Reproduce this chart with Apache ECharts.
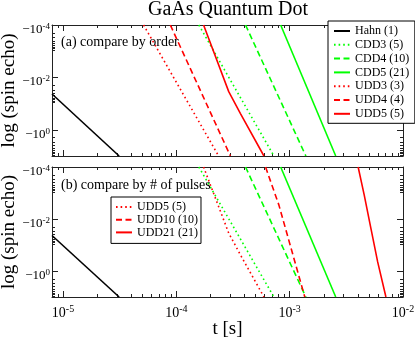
<!DOCTYPE html>
<html>
<head>
<meta charset="utf-8">
<script src="https://cdn.jsdelivr.net/npm/echarts@6/dist/echarts.min.js"></script>
<style>
html,body{margin:0;padding:0;background:#fff;}
#chart{width:415px;height:339px;}
</style>
</head>
<body>
<div id="chart"></div>
<script>
// [t (s), -log(spin echo)]
const hahn  = [[8e-6, 0.043], [3.13e-5, 10]];
const cdd3  = [[1.58e-4, 1e-4], [7.26e-4, 10]];
const cdd4  = [[4.08e-4, 1e-4], [1.39e-3, 10]];
const cdd5  = [[8.33e-4, 1e-4], [2.55e-3, 10]];
const udd3  = [[5.14e-5, 1e-4], [2.36e-4, 10]];
const udd4  = [[8.85e-5, 1e-4], [3.0e-4, 10]];
const udd5  = [[1.74e-4, 1e-4], [2.9e-4, 0.035], [3.68e-4, 0.24], [5.93e-4, 10]];
const udd10 = [[6.13e-4, 1e-4], [8.04e-4, 2.93e-3], [1.36e-3, 10]];
const udd21 = [[4.02e-3, 1e-4], [4.55e-3, 1.21e-3], [5.21e-3, 0.0231], [5.97e-3, 0.436], [7.07e-3, 10]];

// axes
const xMin = 8e-6, xMax = 1e-2;
const yMin = 1e-4, yMax = 10;
const xMajor = [1e-5, 1e-4, 1e-3, 1e-2];
const xMinor = [9e-6,
  2e-5, 3e-5, 4e-5, 5e-5, 6e-5, 7e-5, 8e-5, 9e-5,
  2e-4, 3e-4, 4e-4, 5e-4, 6e-4, 7e-4, 8e-4, 9e-4,
  2e-3, 3e-3, 4e-3, 5e-3, 6e-3, 7e-3, 8e-3, 9e-3];
const yMajor = [1e-4, 1e-2, 1];
const yMinor = [2e-4, 3e-4, 4e-4, 5e-4, 6e-4, 7e-4, 8e-4, 9e-4,
  2e-2, 3e-2, 4e-2, 5e-2, 6e-2, 7e-2, 8e-2, 9e-2,
  2, 3, 4, 5, 6, 7, 8, 9];

const FONT = '"Liberation Serif", "DejaVu Serif", serif';
const lineCol = '#222';
const DOT = [1.6, 3];
const DASH = [6, 3.5];

const chart = echarts.init(document.getElementById('chart'));

function expOf(v) { return Math.round(Math.log10(v)); }

function tick(vals, len) {
    return {show: true, inside: true, customValues: vals, length: len, lineStyle: {color: lineCol, width: 1}};
}

function xAxesFor(g, withLabels) {
    const common = {type: 'log', gridIndex: g, min: xMin, max: xMax, splitLine: {show: false},
        axisLabel: {show: false}, axisLine: {show: false, onZero: false}};
    const lineOn = {show: true, onZero: false, lineStyle: {color: lineCol, width: 1}};
    return [
        Object.assign({}, common, {
            position: 'bottom', axisLine: lineOn, axisTick: tick(xMajor, 6),
            axisLabel: withLabels ? {
                show: true, customValues: xMajor, margin: 7,
                formatter: v => '{m|10}{s|' + expOf(v) + '}',
                rich: {
                    m: {fontFamily: FONT, fontSize: 14, color: '#000', lineHeight: 16, verticalAlign: 'bottom'},
                    s: {fontFamily: FONT, fontSize: 10, color: '#000', lineHeight: 4, verticalAlign: 'top'}
                }
            } : {show: false},
            name: withLabels ? 't [s]' : '', nameLocation: 'middle', nameGap: 23, nameMoveOverlap: false,
            nameTextStyle: {fontFamily: FONT, fontSize: 19, color: '#000'}
        }),
        Object.assign({}, common, {position: 'bottom', axisTick: tick(xMinor, 3)}),
        Object.assign({}, common, {position: 'top', axisLine: lineOn, axisTick: tick(xMajor, 6)}),
        Object.assign({}, common, {position: 'top', axisTick: tick(xMinor, 3)})
    ];
}

function yAxesFor(g) {
    const common = {type: 'log', gridIndex: g, min: yMin, max: yMax, inverse: true, splitLine: {show: false},
        axisLabel: {show: false}, axisLine: {show: false, onZero: false}};
    const lineOn = {show: true, onZero: false, lineStyle: {color: lineCol, width: 1}};
    return [
        Object.assign({}, common, {
            position: 'left', axisLine: lineOn, axisTick: tick(yMajor, 6),
            axisLabel: {
                show: true, customValues: yMajor, margin: 2, padding: [8, 0, 0, 0],
                formatter: v => '{m|\u221210}{s|' + expOf(v) + '}',
                rich: {
                    m: {fontFamily: FONT, fontSize: 13, color: '#000', lineHeight: 14, verticalAlign: 'bottom'},
                    s: {fontFamily: FONT, fontSize: 9, color: '#000', lineHeight: 9, verticalAlign: 'top'}
                }
            },
            name: 'log (spin echo)', nameLocation: 'middle', nameGap: 33, nameRotate: 90, nameMoveOverlap: false,
            nameTextStyle: {fontFamily: FONT, fontSize: 19, color: '#000'}
        }),
        Object.assign({}, common, {position: 'left', axisTick: tick(yMinor, 3)}),
        Object.assign({}, common, {position: 'right', axisLine: lineOn, axisTick: tick(yMajor, 6)}),
        Object.assign({}, common, {position: 'right', axisTick: tick(yMinor, 3)})
    ];
}

function line(name, data, color, type, g) {
    return {
        name: name, type: 'line', data: data, xAxisIndex: g * 4, yAxisIndex: g * 4,
        symbol: 'none', showSymbol: false, clip: true, z: 3,
        lineStyle: {color: color, width: 1.6, type: type}, itemStyle: {color: color}
    };
}

const legendText = {fontFamily: FONT, fontSize: 12, color: '#000', lineHeight: 13};

const option = {
    animation: false,
    backgroundColor: '#fff',
    title: {
        text: 'GaAs Quantum Dot', left: 148, top: 0, padding: 0,
        textStyle: {fontFamily: FONT, fontSize: 20, fontWeight: 'normal', color: '#000'}
    },
    grid: [
        {left: 52, top: 25, width: 351, height: 131, containLabel: false, outerBoundsMode: 'none'},
        {left: 52, top: 167, width: 351, height: 130, containLabel: false, outerBoundsMode: 'none'}
    ],
    xAxis: xAxesFor(0, false).concat(xAxesFor(1, true)),
    yAxis: yAxesFor(0).concat(yAxesFor(1)),
    legend: [
        {
            orient: 'vertical', left: 328, top: 21, padding: [3.5, 5.5, 3, 5],
            itemWidth: 16, itemHeight: 10, itemGap: 0.8,
            backgroundColor: '#fff', borderColor: '#000', borderWidth: 1, borderRadius: 0,
            itemStyle: {opacity: 0},
            textStyle: legendText,
            data: ['Hahn (1)', 'CDD3 (5)', 'CDD4 (10)', 'CDD5 (21)', 'UDD3 (3)', 'UDD4 (4)', 'UDD5 (5)']
        },
        {
            orient: 'vertical', left: 111, top: 197, padding: [4, 3, 5, 4],
            itemWidth: 16, itemHeight: 10, itemGap: 0.7,
            backgroundColor: '#fff', borderColor: '#000', borderWidth: 1, borderRadius: 0,
            itemStyle: {opacity: 0},
            textStyle: Object.assign({}, legendText, {lineHeight: 11}),
            data: ['UDD5 (5) ', 'UDD10 (10)', 'UDD21 (21)']
        }
    ],
    graphic: [
        {type: 'text', left: 61, top: 35, z: 10,
            style: {text: '(a) compare by order', font: '14px ' + FONT, fill: '#000'}},
        {type: 'text', left: 61, top: 178, z: 10,
            style: {text: '(b) compare by # of pulses', font: '14px ' + FONT, fill: '#000'}}
    ],
    series: [
        // (a) compare by order
        line('Hahn (1)', hahn, '#000', 'solid', 0),
        line('CDD3 (5)', cdd3, '#00ff00', DOT, 0),
        line('CDD4 (10)', cdd4, '#00ff00', DASH, 0),
        line('CDD5 (21)', cdd5, '#00ff00', 'solid', 0),
        line('UDD3 (3)', udd3, '#ff0000', DOT, 0),
        line('UDD4 (4)', udd4, '#ff0000', DASH, 0),
        line('UDD5 (5)', udd5, '#ff0000', 'solid', 0),
        // (b) compare by # of pulses
        line('Hahn (1)', hahn, '#000', 'solid', 1),
        line('CDD3 (5)', cdd3, '#00ff00', DOT, 1),
        line('CDD4 (10)', cdd4, '#00ff00', DASH, 1),
        line('CDD5 (21)', cdd5, '#00ff00', 'solid', 1),
        line('UDD5 (5) ', udd5, '#ff0000', DOT, 1),
        line('UDD10 (10)', udd10, '#ff0000', DASH, 1),
        line('UDD21 (21)', udd21, '#ff0000', 'solid', 1)
    ]
};

chart.setOption(option);
</script>
</body>
</html>
